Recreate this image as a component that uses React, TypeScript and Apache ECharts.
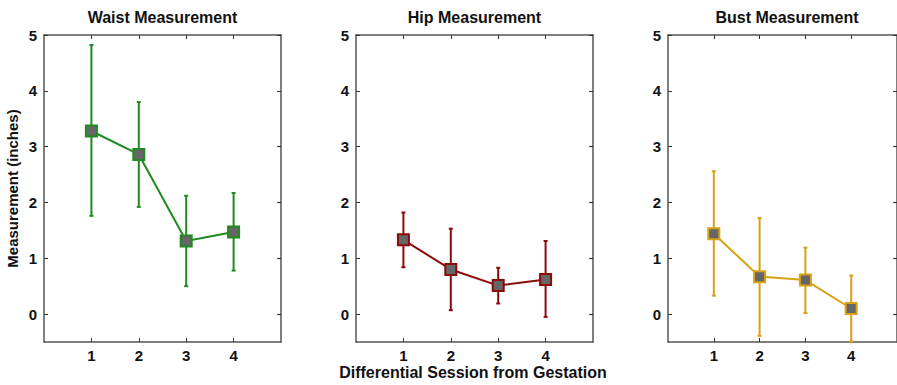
import React, { useEffect, useRef } from "react";
import * as echarts from "echarts";

const sessions = [1, 2, 3, 4];
const panelTitles = ["Waist Measurement", "Hip Measurement", "Bust Measurement"];
const waistMean = [3.28, 2.86, 1.31, 1.47];
const waistLow = [1.76, 1.92, 0.5, 0.78];
const waistHigh = [4.82, 3.8, 2.12, 2.17];
const hipMean = [1.33, 0.8, 0.51, 0.62];
const hipLow = [0.84, 0.07, 0.19, -0.05];
const hipHigh = [1.82, 1.53, 0.83, 1.31];
const bustMean = [1.44, 0.67, 0.61, 0.1];
const bustLow = [0.33, -0.39, 0.02, -0.49];
const bustHigh = [2.56, 1.72, 1.19, 0.69];
const yTicks = [0, 1, 2, 3, 4, 5];
const colors = ["#1f8a1f", "#8b0a0a", "#d8a215"];

const FONT = "'Liberation Sans', Arial, sans-serif";

export default function App() {
  const ref = useRef<HTMLDivElement>(null);
  useEffect(() => {
    if (!ref.current) return;
    const chart = echarts.init(ref.current, undefined, { renderer: "svg" });
    const grids = [
      { left: 44, top: 35, width: 237, bottom: 43 },
      { left: 356, top: 35, width: 237, bottom: 43 },
      { left: 668, top: 35, width: 238, bottom: 43 },
    ];
    const means = [waistMean, hipMean, bustMean];
    const lows = [waistLow, hipLow, bustLow];
    const highs = [waistHigh, hipHigh, bustHigh];
    const axisLineStyle = { color: "#555", width: 1.5 };
    const tickStyle = { color: "#333", width: 1 };
    const labelStyle = { fontFamily: FONT, fontWeight: "bold", fontSize: 15, color: "#111" };
    const xAxes: any[] = [];
    const yAxes: any[] = [];
    const series: any[] = [];
    grids.forEach((g, i) => {
      xAxes.push({
        type: "value", gridIndex: i, min: 0, max: 5, position: "bottom",
        splitLine: { show: false },
        axisLine: { onZero: false, lineStyle: axisLineStyle },
        axisTick: { inside: true, length: 4, customValues: sessions, lineStyle: tickStyle },
        axisLabel: { customValues: sessions, ...labelStyle, margin: 6 },
      });
      xAxes.push({
        type: "value", gridIndex: i, min: 0, max: 5, position: "top",
        splitLine: { show: false },
        axisLine: { onZero: false, lineStyle: axisLineStyle },
        axisTick: { inside: true, length: 4, customValues: sessions, lineStyle: tickStyle },
        axisLabel: { show: false },
      });
      yAxes.push({
        type: "value", gridIndex: i, min: -0.5, max: 5, position: "left",
        splitLine: { show: false },
        axisLine: { show: true, onZero: false, lineStyle: axisLineStyle },
        axisTick: { show: true, inside: true, length: 4, customValues: yTicks, lineStyle: tickStyle },
        axisLabel: { customValues: yTicks, ...labelStyle, margin: 7 },
        ...(i === 0
          ? {
              name: "Measurement (inches)", nameLocation: "middle", nameGap: 24,
              nameTextStyle: { fontFamily: FONT, fontWeight: "bold", fontSize: 15, color: "#111" },
            }
          : {}),
      });
      yAxes.push({
        type: "value", gridIndex: i, min: -0.5, max: 5, position: "right",
        splitLine: { show: false },
        axisLine: { show: true, onZero: false, lineStyle: axisLineStyle },
        axisTick: { show: true, inside: true, length: 4, customValues: yTicks, lineStyle: tickStyle },
        axisLabel: { show: false },
      });
      const c = colors[i];
      const errData = sessions.map((s, k) => [s, lows[i][k], highs[i][k]]);
      series.push({
        type: "custom", xAxisIndex: 2 * i, yAxisIndex: 2 * i,
        data: errData, z: 2,
        renderItem: (params: any, api: any) => {
          const x = api.value(0);
          const lo = api.coord([x, api.value(1)]);
          const hi = api.coord([x, api.value(2)]);
          const cw = 2;
          const style = { stroke: c, lineWidth: 2 };
          return {
            type: "group",
            children: [
              { type: "line", shape: { x1: lo[0], y1: lo[1], x2: hi[0], y2: hi[1] }, style },
              { type: "line", shape: { x1: lo[0] - cw, y1: lo[1], x2: lo[0] + cw, y2: lo[1] }, style },
              { type: "line", shape: { x1: hi[0] - cw, y1: hi[1], x2: hi[0] + cw, y2: hi[1] }, style },
            ],
          };
        },
      });
      series.push({
        type: "line", xAxisIndex: 2 * i, yAxisIndex: 2 * i, z: 3,
        data: sessions.map((s, k) => [s, means[i][k]]),
        lineStyle: { color: c, width: 2 },
        symbol: "rect", symbolSize: 11,
        itemStyle: { color: "#666666", borderColor: c, borderWidth: 2 },
      });
    });
    const titleCenters = [162.5, 474.5, 787];
    chart.setOption({
      animation: false,
      backgroundColor: "#fff",
      grid: grids,
      xAxis: xAxes,
      yAxis: yAxes,
      series,
      graphic: [
        ...panelTitles.map((t, i) => ({
          type: "text", x: titleCenters[i], y: 17,
          style: { text: t, textAlign: "center", textVerticalAlign: "middle", font: `bold 16px ${FONT}`, fill: "#111" },
        })),
        {
          type: "text", x: 473, y: 372,
          style: { text: "Differential Session from Gestation", textAlign: "center", textVerticalAlign: "middle", font: `bold 16px ${FONT}`, fill: "#111" },
        },
      ],
    });
    return () => chart.dispose();
  }, []);
  return <div ref={ref} style={{ width: 897, height: 385, position: "absolute", left: 0, top: 0 }} />;
}
